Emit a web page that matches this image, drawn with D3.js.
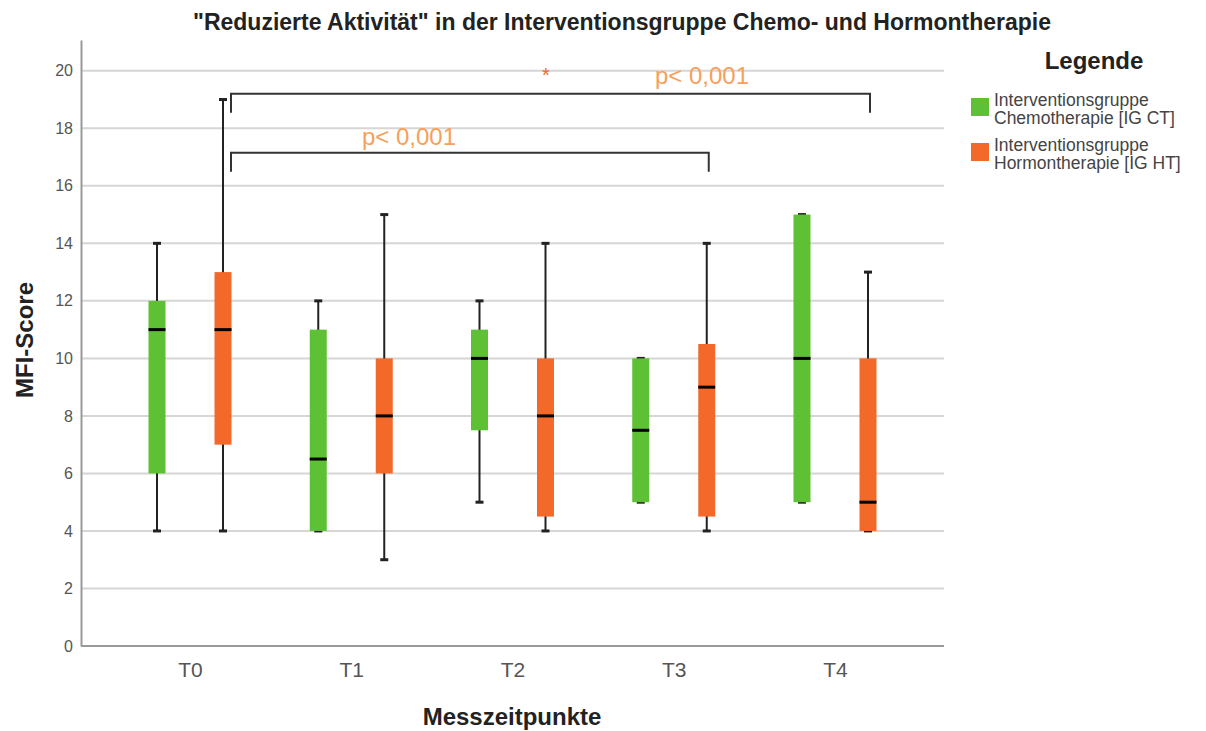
<!DOCTYPE html>
<html>
<head>
<meta charset="utf-8">
<script src="https://cdn.jsdelivr.net/npm/d3@7"></script>
<style>
  body { margin: 0; background: #fff; }
  svg { font-family: "Liberation Sans", Arial, sans-serif; }
</style>
</head>
<body>
<div id="chart"></div>
<script>
// chart size
let width = 1206,
    height = 731

// data
let timepoints = ["T0", "T1", "T2", "T3", "T4"]
let groups = ["IG CT", "IG HT"]
let groupLabels = [["Interventionsgruppe", "Chemotherapie [IG CT]"],
                   ["Interventionsgruppe", "Hormontherapie [IG HT]"]]
// [min, q1, median, q3, max] per timepoint
let ctStats = [[4, 6, 11, 12, 14],
               [4, 4, 6.5, 11, 12],
               [5, 7.5, 10, 11, 12],
               [5, 5, 7.5, 10, 10],
               [5, 5, 10, 15, 15]]
let htStats = [[4, 7, 11, 13, 19],
               [3, 6, 8, 10, 15],
               [4, 4.5, 8, 10, 14],
               [4, 4.5, 9, 10.5, 14],
               [4, 4, 5, 10, 13]]
let yTicks = [0, 2, 4, 6, 8, 10, 12, 14, 16, 18, 20]
// significance brackets between the HT boxes
let brackets = [{ from: "T0", to: "T3", level: 17.15, label: "p< 0,001" },
                { from: "T0", to: "T4", level: 19.2, label: "p< 0,001" }]

let colors = ["#5dc035", "#f2692a"]

let margin = { left: 81, right: 262, top: 40, bottom: 85 }

let svg = d3.select("#chart")
  .append("svg")
    .attr("width", width)
    .attr("height", height)

let x = d3.scalePoint()
  .domain(timepoints)
  .range([margin.left, width - margin.right])
  .padding(0.676)

let y = d3.scaleLinear()
  .domain([0, 21.07])
  .range([height - margin.bottom, margin.top])

let groupOffset = d3.scalePoint().domain(groups).range([-33, 33])
let boxWidth = 17

// gridlines
svg.append("g")
  .selectAll("line")
  .data(yTicks)
  .enter()
  .append("line")
    .attr("x1", margin.left)
    .attr("x2", width - margin.right)
    .attr("y1", d => y(d))
    .attr("y2", d => y(d))
    .attr("stroke", "#d6d6d6")
    .attr("stroke-width", 2)

// y axis
let yAxis = svg.append("g")
  .attr("transform", "translate(" + margin.left + ",0)")
  .call(d3.axisLeft(y).tickValues(yTicks).tickSize(0).tickPadding(8))
yAxis.select(".domain").attr("stroke", "#999").attr("stroke-width", 2)
yAxis.selectAll("text").attr("fill", "#555").style("font-size", "16px")

// x axis
let xAxis = svg.append("g")
  .attr("transform", "translate(0," + (height - margin.bottom) + ")")
  .call(d3.axisBottom(x).tickSize(0).tickPadding(16))
xAxis.select(".domain").attr("stroke", "#999").attr("stroke-width", 2)
  .attr("d", "M" + margin.left + ",0H" + (width - margin.right))
xAxis.selectAll("text").attr("fill", "#555").style("font-size", "21px")

// boxes
let boxData = []
timepoints.forEach(function(t, i) {
  boxData.push({ t: t, g: groups[0], s: ctStats[i], c: colors[0] })
  boxData.push({ t: t, g: groups[1], s: htStats[i], c: colors[1] })
})

let box = svg.append("g")
  .selectAll("g")
  .data(boxData)
  .enter()
  .append("g")
    .attr("transform", d => "translate(" + (x(d.t) + groupOffset(d.g)) + ",0)")

box.append("line")
  .attr("y1", d => y(d.s[0]))
  .attr("y2", d => y(d.s[4]))
  .attr("stroke", "#222")
  .attr("stroke-width", 2)

box.selectAll(".cap")
  .data(d => [d.s[0], d.s[4]])
  .enter()
  .append("line")
    .attr("x1", -4).attr("x2", 4)
    .attr("y1", d => y(d)).attr("y2", d => y(d))
    .attr("stroke", "#222")
    .attr("stroke-width", 3)

box.append("rect")
  .attr("x", -boxWidth / 2)
  .attr("width", boxWidth)
  .attr("y", d => y(d.s[3]))
  .attr("height", d => y(d.s[1]) - y(d.s[3]))
  .attr("fill", d => d.c)

box.append("line")
  .attr("x1", -boxWidth / 2).attr("x2", boxWidth / 2)
  .attr("y1", d => y(d.s[2])).attr("y2", d => y(d.s[2]))
  .attr("stroke", "#000")
  .attr("stroke-width", 3)

// significance brackets
let br = svg.append("g")
brackets.forEach(function(b) {
  let x1 = x(b.from) + groupOffset("IG HT") + 8
  let x2 = x(b.to) + groupOffset("IG HT") + 2
  let yl = y(b.level)
  let drop = 19
  br.append("path")
    .attr("d", "M" + x1 + "," + (yl + drop) + "V" + yl + "H" + x2 + "V" + (yl + drop))
    .attr("fill", "none")
    .attr("stroke", "#333")
    .attr("stroke-width", 2)
})
br.append("text")
  .attr("x", 409).attr("y", 145)
  .attr("text-anchor", "middle")
  .attr("fill", "#f7a05a")
  .style("font-size", "24px")
  .text(brackets[0].label)
br.append("text")
  .attr("x", 702).attr("y", 84)
  .attr("text-anchor", "middle")
  .attr("fill", "#f7a05a")
  .style("font-size", "24px")
  .text(brackets[1].label)
br.append("text")
  .attr("x", 546).attr("y", 82)
  .attr("text-anchor", "middle")
  .attr("fill", "#f2692a")
  .style("font-size", "20px")
  .text("*")

// title
svg.append("text")
  .attr("x", 622).attr("y", 30)
  .attr("text-anchor", "middle")
  .style("font-size", "23px")
  .style("font-weight", "bold")
  .attr("fill", "#222")
  .text("\"Reduzierte Aktivität\" in der Interventionsgruppe Chemo- und Hormontherapie")

// axis titles
svg.append("text")
  .attr("transform", "translate(33," + 340 + ") rotate(-90)")
  .attr("text-anchor", "middle")
  .style("font-size", "24px")
  .style("font-weight", "bold")
  .attr("fill", "#222")
  .text("MFI-Score")

svg.append("text")
  .attr("x", 512).attr("y", 725)
  .attr("text-anchor", "middle")
  .style("font-size", "24px")
  .style("font-weight", "bold")
  .attr("fill", "#222")
  .text("Messzeitpunkte")

// legend
let legend = svg.append("g")
legend.append("text")
  .attr("x", 1094).attr("y", 69)
  .attr("text-anchor", "middle")
  .style("font-size", "24px")
  .style("font-weight", "bold")
  .attr("fill", "#222")
  .text("Legende")

let item = legend.selectAll(".item")
  .data(groups)
  .enter()
  .append("g")
    .attr("transform", (d, i) => "translate(971," + (98 + i * 45) + ")")
item.append("rect")
  .attr("width", 18).attr("height", 18)
  .attr("fill", (d, i) => colors[i])
item.append("text")
  .attr("fill", "#444")
  .style("font-size", "17.5px")
  .selectAll("tspan")
  .data((d, i) => groupLabels[i])
  .enter()
  .append("tspan")
    .attr("x", 23)
    .attr("y", (d, j) => 8 + j * 18)
    .text(d => d)
</script>
</body>
</html>
